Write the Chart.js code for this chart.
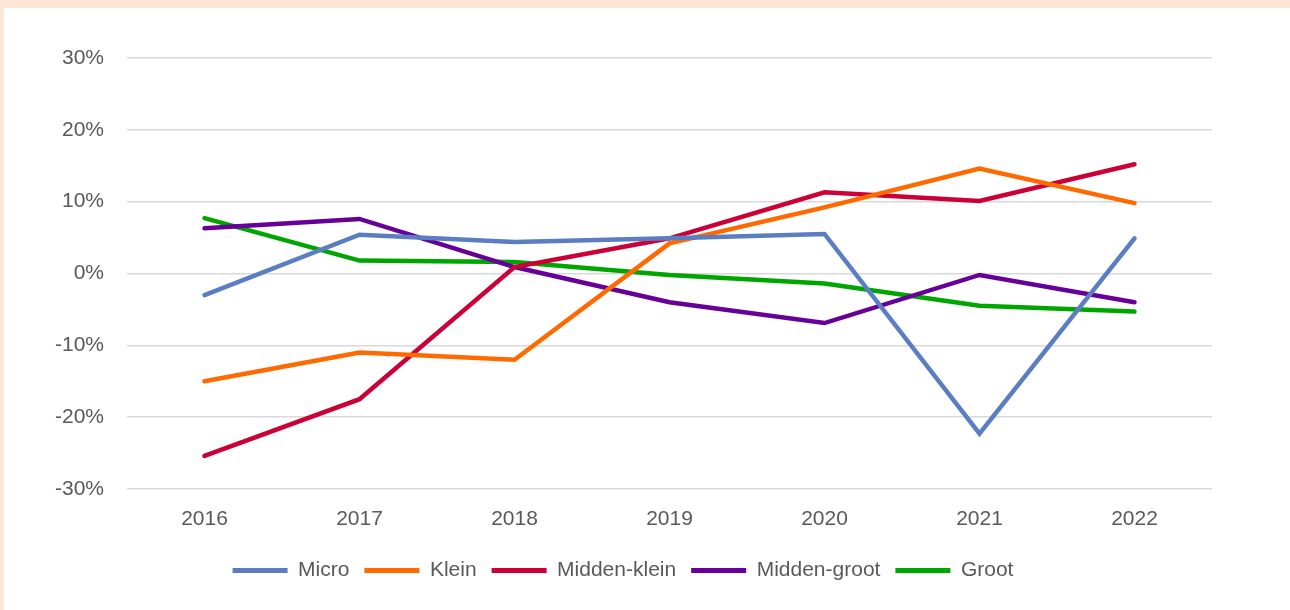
<!DOCTYPE html>
<html>
<head>
<meta charset="utf-8">
<script src="https://cdn.jsdelivr.net/npm/chart.js@4"></script>
<style>
  html, body { margin: 0; padding: 0; }
  body { width: 1290px; height: 610px; background: #fde6d6; overflow: hidden; position: relative; }
  #panel { position: absolute; left: 4px; top: 8px; width: 1286px; height: 602px; background: #ffffff; }
  #panel canvas { display: block; }
</style>
</head>
<body>
<div id="panel"><canvas id="growthChart" width="1286" height="602"></canvas></div>
<script>
// ── Data ─────────────────────────────────────────────────────────────────────
const years = ['2016', '2017', '2018', '2019', '2020', '2021', '2022'];

const micro       = [-3.0,   5.4,   4.4,  4.9,  5.5, -22.3,  4.9];
const klein       = [-15.0, -11.0, -12.0, 4.2,  9.2,  14.6,  9.8];
const middenKlein = [-25.4, -17.5,  0.9,  4.9, 11.3,  10.1, 15.2];
const middenGroot = [ 6.3,   7.6,   0.9, -4.0, -6.9,  -0.2, -4.0];
const groot       = [ 7.7,   1.8,   1.6, -0.2, -1.4,  -4.5, -5.3];

const seriesNames  = ['Micro', 'Klein', 'Midden-klein', 'Midden-groot', 'Groot'];
const seriesColors = ['#5b7dc1', '#ff6a00', '#cc0036', '#660099', '#00a600'];

const yTicks = [-30, -20, -10, 0, 10, 20, 30];

const FONT = { family: "'Liberation Sans', 'Open Sans', sans-serif", size: 21 };
const TEXT_COLOR = '#595959';

// ── Chart ────────────────────────────────────────────────────────────────────
const seriesValues = [micro, klein, middenKlein, middenGroot, groot];

const datasets = seriesNames.map((name, i) => ({
  label: name,
  data: seriesValues[i],
  borderColor: seriesColors[i],
  backgroundColor: seriesColors[i],
  borderWidth: 4.5,
  borderCapStyle: 'round',
  borderJoinStyle: 'miter',
  pointRadius: 0,
  pointHoverRadius: 0,
  tension: 0,
}));

// legend in the reference sits a bit right of the plot-area centre
const shiftLegend = {
  id: 'shiftLegend',
  afterLayout(chart) {
    if (!chart.legend) return;
    chart.legend.left += 15;
    chart.legend.right += 15;
  },
};

new Chart(document.getElementById('growthChart'), {
  type: 'line',
  data: { labels: years, datasets },
  plugins: [shiftLegend],
  options: {
    responsive: false,
    animation: false,
    layout: { padding: { left: 0, top: 50, right: 78, bottom: 19 } },
    plugins: {
      tooltip: { enabled: false },
      legend: {
        position: 'bottom',
        labels: {
          color: TEXT_COLOR,
          font: FONT,
          boxWidth: 55,
          boxHeight: 5,
          padding: 15,
          generateLabels: (chart) => chart.data.datasets.map((ds, i) => ({
            text: ds.label,
            fillStyle: ds.borderColor,
            strokeStyle: ds.borderColor,
            lineWidth: 0,
            fontColor: TEXT_COLOR,
            datasetIndex: i,
            hidden: false,
          })),
        },
      },
    },
    scales: {
      x: {
        offset: true,
        grid: { display: false, drawTicks: false },
        border: { display: false },
        ticks: { color: TEXT_COLOR, font: FONT, padding: 18, maxRotation: 0 },
        afterFit: (axis) => { axis.height = 56; },
      },
      y: {
        min: yTicks[0],
        max: yTicks[yTicks.length - 1],
        afterBuildTicks: (axis) => { axis.ticks = yTicks.map(v => ({ value: v })); },
        grid: { color: '#d9d9d9', lineWidth: 1.5, drawTicks: false },
        border: { display: false },
        ticks: {
          color: TEXT_COLOR,
          font: FONT,
          padding: 23,
          callback: (v) => v + '%',
        },
        afterFit: (axis) => { axis.width = 123; },
      },
    },
  },
});
</script>
</body>
</html>
